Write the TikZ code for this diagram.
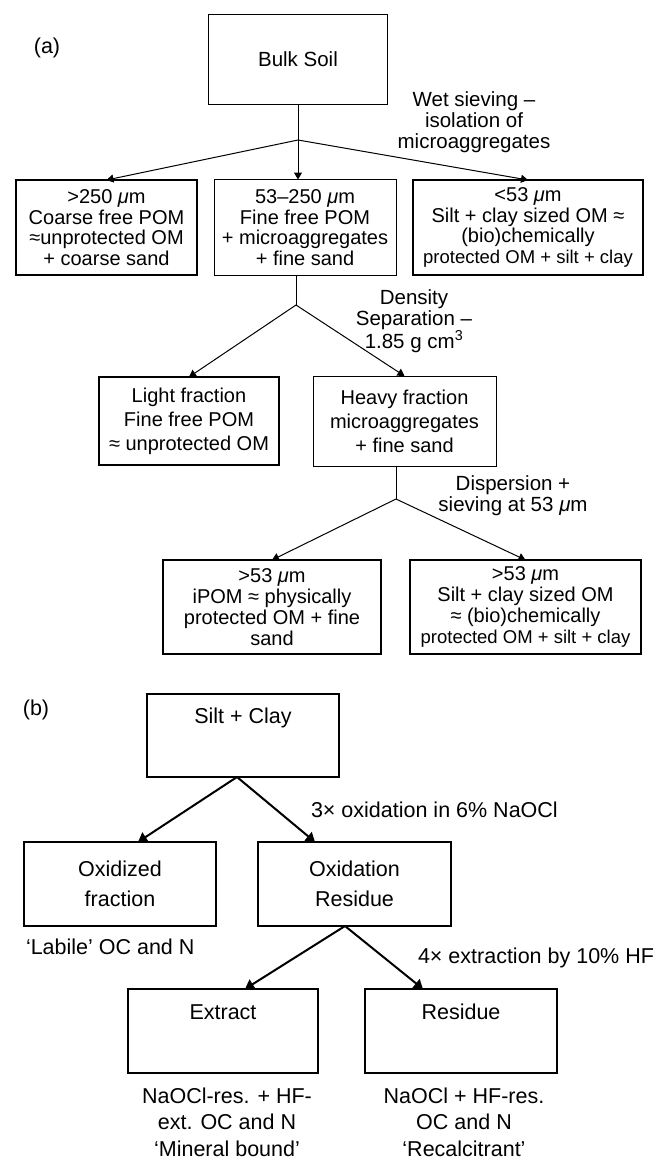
\documentclass[tikz,border=0pt]{standalone}
\usepackage{fontspec}
\setmainfont{Liberation Sans}
\usetikzlibrary{arrows.meta,calc}
\begin{document}
\begin{tikzpicture}[x=1pt,y=-1pt,
  every node/.style={inner sep=0pt, outer sep=0pt},
  boxa/.style={draw, line width=1pt, align=center, font=\fontsize{20}{20.5}\selectfont},
  thk/.style={line width=2.6pt},
  boxb/.style={draw, line width=2pt, align=center, font=\fontsize{21.5}{30}\selectfont},
  lbl/.style={align=center, font=\fontsize{20.5}{21}\selectfont},
  lblb/.style={align=center, font=\fontsize{21.5}{26.5}\selectfont},
  tag/.style={font=\fontsize{21.5}{24}\selectfont},
  arra/.style={line width=1pt, -{Triangle[length=7pt,width=8pt]}},
  arrb/.style={line width=2pt, -{Triangle[length=9pt,width=11pt]}},
  lna/.style={line width=1pt}
]
\useasboundingbox (0,0) rectangle (664,1162);

% ---------- (a) ----------
\node[tag] (alab) at (47,48) {(a)};
\node[boxa, minimum width=179, minimum height=90, font=\fontsize{20.5}{21}\selectfont] (bulk) at (298,59) {Bulk Soil};

\node[boxa, thk, minimum width=181, minimum height=95] (r1a) at (106.5,227.5)
  {>250 {\itshape μ}m\\Coarse free POM\\≈unprotected OM\\+ coarse sand};
\node[boxa, minimum width=182, minimum height=96] (r1b) at (305,227.5)
  {53–250 {\itshape μ}m\\Fine free POM\\+ microaggregates\\+ fine sand};
\node[boxa, thk, minimum width=230, minimum height=95] (r1c) at (528,227.5)
  {<53 {\itshape μ}m\\Silt + clay sized OM ≈\\(bio)chemically\\{\fontsize{18.5}{20}\selectfont protected OM + silt + clay}};

\node[lbl] (wet) at (474,122) {Wet sieving –\\isolation of\\microaggregates};

\coordinate (j1) at (298,140);
\draw[lna] (bulk.south) -- (j1);
\draw[arra] (j1) -- (r1a.north);
\draw[arra] (j1) -- (j1 |- r1b.north);
\draw[arra] (j1) -- (r1c.north);

\node[boxa, thk, minimum width=180, minimum height=88, font=\fontsize{20}{24}\selectfont] (r2a) at (189,421)
  {Light fraction\\Fine free POM\\≈ unprotected OM};
\node[boxa, minimum width=183, minimum height=90, font=\fontsize{20}{24}\selectfont] (r2b) at (404.5,421)
  {Heavy fraction\\microaggregates\\+ fine sand};

\node[lbl] (dens) at (414,321) {Density\\Separation –\\1.85 g cm\textsuperscript{3}};

\coordinate (j2) at (296,305);
\draw[lna] (j2 |- r1b.south) -- (j2);
\draw[arra] (j2) -- (r2a.north);
\draw[arra] (j2) -- (r2b.north);

\node[boxa, thk, minimum width=218, minimum height=94, font=\fontsize{20}{21}\selectfont] (r3a) at (272,607)
  {>53 {\itshape μ}m\\iPOM ≈ physically\\protected OM + fine\\sand};
\node[boxa, thk, minimum width=231, minimum height=94, font=\fontsize{20}{21}\selectfont] (r3b) at (525.5,607)
  {>53 {\itshape μ}m\\Silt + clay sized OM\\≈ (bio)chemically\\{\fontsize{18.5}{20}\selectfont protected OM + silt + clay}};

\node[lbl] (disp) at (513,496) {Dispersion +\\sieving at 53 {\itshape μ}m};

\coordinate (j3) at (396,499);
\draw[lna] (j3 |- r2b.south) -- (j3);
\draw[arra] (j3) -- (r3a.north);
\draw[arra] (j3) -- (r3b.north);

% ---------- (b) ----------
\node[tag] (blab) at (36,710) {(b)};
\node[boxb, minimum width=192, minimum height=83] (silt) at (243,735.5) {};
\node[tag] (siltt) at ($(silt.north)+(0,24)$) {Silt + Clay};

\node[boxb, minimum width=192, minimum height=84] (ox) at (120,884) {Oxidized\\fraction};
\node[boxb, minimum width=193, minimum height=84] (res) at (354.5,884) {Oxidation\\Residue};

\draw[arrb] ($(silt.south)+(-6,0)$) -- ($(ox.north)+(18,0)$);
\draw[arrb] ($(silt.south)+(-6,0)$) -- ($(res.north)+(-39.5,0)$);
\node[tag, anchor=west] (oxl) at (311,810) {3× oxidation in 6\% NaOCl};
\node[tag, anchor=west] (labl) at (26,947) {‘Labile’ OC and N};

\node[boxb, minimum width=190, minimum height=84] (ext) at (223,1031) {};
\node[tag] (extt) at ($(ext.north)+(0,23)$) {Extract};
\node[boxb, minimum width=192, minimum height=84] (rsd) at (461,1031) {};
\node[tag] (rsdt) at ($(rsd.north)+(0,23)$) {Residue};

\draw[arrb] ($(res.south)+(-9.5,0)$) -- ($(ext.north)+(22,0)$);
\draw[arrb] ($(res.south)+(-9.5,0)$) -- ($(rsd.north)+(-38,0)$);
\node[tag, anchor=west] (hfl) at (418,958) {4× extraction by 10\% HF};

\node[lblb] (extd) at (227,1122) {NaOCl-res. + HF-\\ext. OC and N\\‘Mineral bound’};
\node[lblb] (rsdd) at (464,1122) {NaOCl + HF-res.\\OC and N\\‘Recalcitrant’};
\end{tikzpicture}
\end{document}
